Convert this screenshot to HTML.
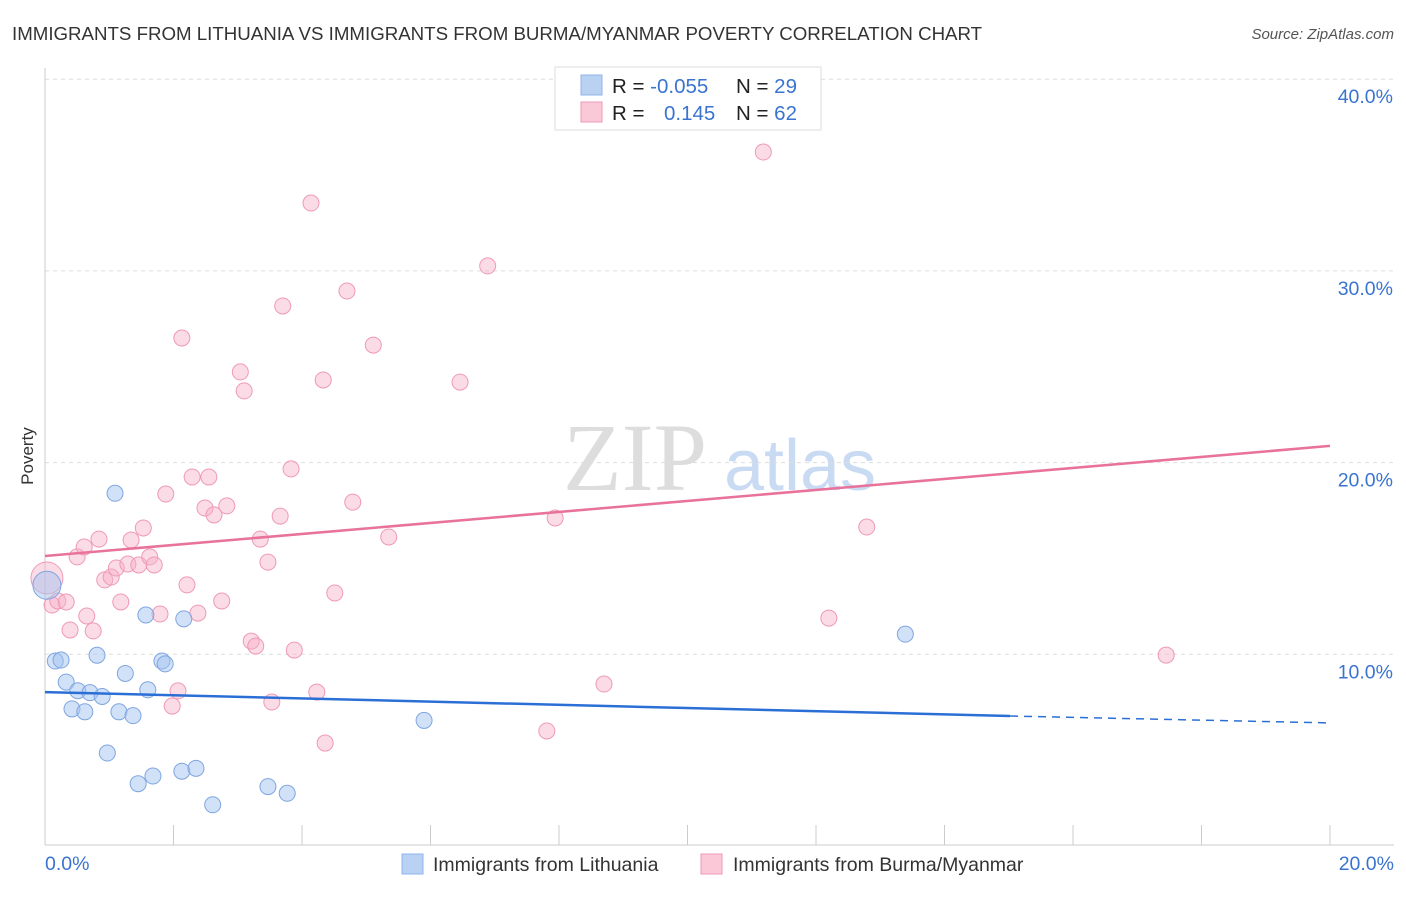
<!DOCTYPE html>
<html><head><meta charset="utf-8"><style>
body{margin:0;background:#fff;font-family:"Liberation Sans",sans-serif;}
</style></head><body>
<svg width="1406" height="892" xmlns="http://www.w3.org/2000/svg" id="svg">
<text x="12" y="40" font-size="18.7" fill="#333">IMMIGRANTS FROM LITHUANIA VS IMMIGRANTS FROM BURMA/MYANMAR POVERTY CORRELATION CHART</text>
<text x="1394" y="39" font-size="15" fill="#555" font-style="italic" text-anchor="end">Source: ZipAtlas.com</text>
<text x="33" y="456" font-size="17" fill="#333" text-anchor="middle" transform="rotate(-90 33 456)">Poverty</text>
<g>
<text x="635" y="490" font-size="96" fill="#ddd" font-family="Liberation Serif" text-anchor="middle">ZIP</text>
<text x="800" y="490" font-size="72" fill="#c9dbf3" text-anchor="middle">atlas</text>
</g>
<g id="grid"></g>
<g id="marks"></g>
<g>
<rect x="555" y="67" width="266" height="63" fill="#fff" stroke="#ddd"/>
<rect x="581" y="75" width="21" height="20" fill="#b9d2f4" stroke="#8fb3e8"/>
<rect x="581" y="102" width="21" height="20" fill="#fbc8d8" stroke="#ef9ab5"/>
<text x="612" y="93" font-size="20.5" fill="#222">R = <tspan fill="#3a74d0">-0.055</tspan></text>
<text x="736" y="93" font-size="20.5" fill="#222">N = <tspan fill="#3a74d0">29</tspan></text>
<text x="612" y="120" font-size="20.5" fill="#222">R = <tspan fill="#3a74d0" x="664">0.145</tspan></text>
<text x="736" y="120" font-size="20.5" fill="#222">N = <tspan fill="#3a74d0">62</tspan></text>
</g>
<g>
<rect x="402" y="854" width="21" height="20" fill="#b9d2f4" stroke="#8fb3e8"/>
<text x="433" y="871" font-size="19.5" fill="#333">Immigrants from Lithuania</text>
<rect x="701" y="854" width="21" height="20" fill="#fbc8d8" stroke="#ef9ab5"/>
<text x="733" y="871" font-size="19.5" fill="#333">Immigrants from Burma/Myanmar</text>
</g>
</svg>
<script>
const yTicks=[10,20,30,40];
const xTickLabels=["0.0%","20.0%"];
const blueX=[0.03,0.16,0.25,0.33,0.42,0.51,0.62,0.70,0.81,0.89,0.97,1.09,1.15,1.25,1.37,1.45,1.57,1.60,1.68,1.82,1.87,2.13,2.16,2.35,2.61,3.47,3.77,5.90,13.39];
const blueY=[13.6,9.65,9.7,8.55,7.15,8.1,7.0,8.0,9.95,7.8,4.85,18.4,7.0,9.0,6.8,3.25,12.05,8.15,3.65,9.65,9.5,3.9,11.85,4.05,2.15,3.1,2.75,6.55,11.05];
const pinkX=[0.11,0.03,0.20,0.33,0.39,0.50,0.61,0.65,0.75,0.84,0.93,1.03,1.11,1.18,1.29,1.34,1.46,1.53,1.63,1.70,1.79,1.88,2.07,1.98,2.13,2.21,2.29,2.38,2.49,2.55,2.63,2.75,2.83,3.04,3.10,3.21,3.28,3.35,3.47,3.53,3.66,3.70,3.83,3.88,4.14,4.23,4.33,4.36,4.51,4.70,4.79,5.11,5.35,6.46,6.89,7.81,7.94,8.70,11.18,12.20,12.79,17.45];
const pinkY=[12.57,13.98,12.78,12.73,11.27,15.08,15.60,12.0,11.22,16.01,13.88,14.03,14.5,12.73,14.71,15.96,14.66,16.59,15.08,14.66,12.1,18.36,8.09,7.3,26.5,13.62,19.25,12.15,17.63,19.25,17.27,12.78,17.74,24.73,23.74,10.69,10.43,16.01,14.81,7.51,17.21,28.17,19.67,10.22,33.54,8.03,24.31,5.37,13.2,28.95,17.94,26.13,16.12,24.2,30.26,6.0,17.11,8.45,36.2,11.89,16.64,9.96];
const blueTrend=[8.03,6.78,6.42];
const pinkTrend=[15.13,20.87];
const X=v=>45+v*64.25, Y=v=>846-v*19.17;
const NS="http://www.w3.org/2000/svg";
const grid=document.getElementById('grid'), marks=document.getElementById('marks');
function mk(tag,attrs,parent){const e=document.createElementNS(NS,tag);for(const k in attrs)e.setAttribute(k,attrs[k]);parent.appendChild(e);return e;}
yTicks.forEach(t=>{
 const l=mk('line',{x1:45,x2:1394,y1:Y(t),y2:Y(t),stroke:'#ddd','stroke-dasharray':'4,4'},grid);
 
 
 const tx=mk('text',{x:1393,y:Y(t)+24,'font-size':19.5,fill:'#3a74d0','text-anchor':'end'},grid);
 tx.textContent=t.toFixed(1)+'%';
 
 
});
let ax=mk('line',{x1:45,x2:45,y1:68,y2:845,stroke:'#ccc'},grid);


ax=mk('line',{x1:45,x2:1394,y1:845,y2:845,stroke:'#ccc'},grid);


for(let i=0;i<=10;i++){const t=mk('line',{x1:X(i*2),x2:X(i*2),y1:825,y2:845,stroke:'#ccc'},grid);
 
 }
[[0,'start',45],[20,'end',1394]].forEach(([v,a,x],i)=>{const t=mk('text',{x:x,y:870,'font-size':19.5,fill:'#3a74d0','text-anchor':a},grid);t.textContent=xTickLabels[i];
 
 });
pinkX.forEach((x,i)=>{const c=mk('circle',{cx:X(x),cy:Y(pinkY[i]),r:i==1?16:8,fill:'rgba(246,176,199,0.45)',stroke:'#ef9ab5','stroke-width':1},marks);
 
 });
blueX.forEach((x,i)=>{const c=mk('circle',{cx:X(x),cy:Y(blueY[i]),r:i==0?14:8,fill:'rgba(164,195,239,0.5)',stroke:'#7fa6e0','stroke-width':1},marks);
 
 });
let l=mk('line',{x1:X(0),y1:Y(pinkTrend[0]),x2:X(20),y2:Y(pinkTrend[1]),stroke:'#e8729a','stroke-width':2.5},marks);


l=mk('line',{x1:X(0),y1:Y(blueTrend[0]),x2:X(15.02),y2:Y(blueTrend[1]),stroke:'#2b6fd6','stroke-width':2.5},marks);


l=mk('line',{x1:X(15.02),y1:Y(blueTrend[1]),x2:X(20),y2:Y(blueTrend[2]),stroke:'#2b6fd6','stroke-width':1.5,'stroke-dasharray':'8,6'},marks);


</script>
</body></html>
